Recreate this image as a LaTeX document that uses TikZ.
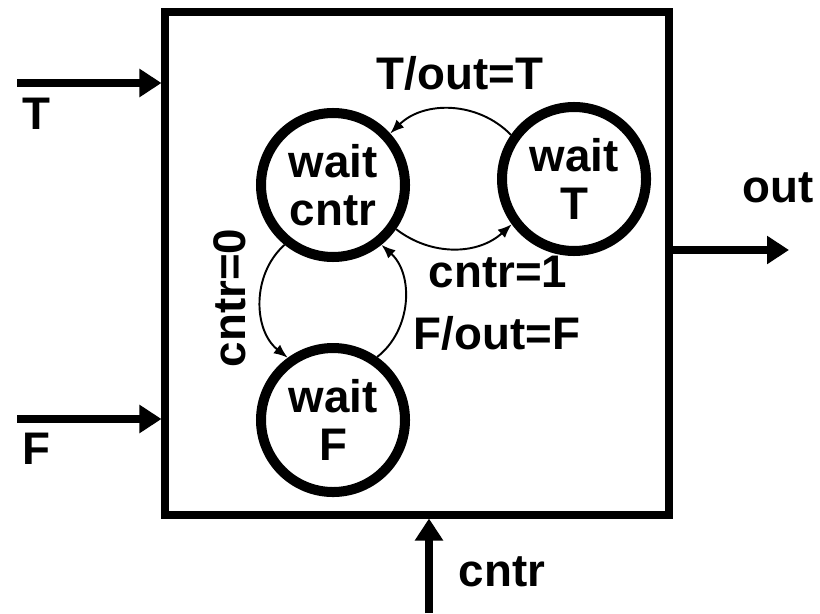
\documentclass[tikz,border=0pt]{standalone}
\usepackage{fontspec}
\setmainfont{Liberation Sans}
\usepackage{tikz}
\usetikzlibrary{arrows.meta, positioning}

\begin{document}
\begin{tikzpicture}[
    state/.style={draw, circle, line width=5.7pt, minimum size=2.88cm,
                  inner sep=0pt, align=center,
                  font=\fontsize{26}{27}\selectfont\bfseries},
    trans/.style={-{Latex[length=0.28cm, width=0.22cm]}, line width=1.1pt},
    sig/.style={-{Triangle[length=0.44cm, width=0.54cm]}, line width=4.5pt},
    lbl/.style={font=\fontsize{26}{27}\selectfont\bfseries, inner sep=0pt}
]
    \useasboundingbox (0,0) rectangle (16.4,12.26);
    \node[draw, line width=4pt, minimum width=10.08cm, minimum height=10.06cm] (blk) at (8.34,6.99) {};

    \node[state] (cntst) at (6.66,8.56) {wait\\cntr};
    \node[state, right=1.74cm of cntst, yshift=0.12cm] (tst) {wait\\T};
    \node[state, below=1.62cm of cntst] (fst) {wait\\F};

    % transitions
    \draw[trans] (tst.145) to[bend right=45] (cntst.42);
    \draw[trans] (cntst.-35) to[bend right=40] (tst.216);
    \draw[trans] (cntst.231) to[bend right=50] (fst.126);
    \draw[trans] (fst.55) to[bend right=50] (cntst.309);

    \node[lbl] (tout) at (9.2,10.8) {T/out=T};
    \node[lbl] (cone) at (9.96,6.82) {cntr=1};
    \node[lbl] (fout) at (9.94,5.6) {F/out=F};
    \node[lbl, rotate=90] (czero) at (4.6,6.3) {cntr=0};

    % ports
    \coordinate (tin) at (0.34,10.6);
    \coordinate (fin) at (0.34,3.88);
    \coordinate (cin) at (8.58,0);
    \coordinate (oend) at (15.78,7.26);
    \draw[sig] (tin) -- (tin -| blk.west);
    \draw[sig] (fin) -- (fin -| blk.west);
    \draw[sig] (cin) -- (cin |- blk.south);
    \draw[sig] (oend -| blk.east) -- (oend);

    \node[lbl] (tname) at (0.72,9.98) {T};
    \node[lbl] (fname) at (0.72,3.28) {F};
    \node[lbl] (oname) at (15.56,8.5) {out};
    \node[lbl] (cname) at (10.04,0.82) {cntr};
\end{tikzpicture}
\end{document}
